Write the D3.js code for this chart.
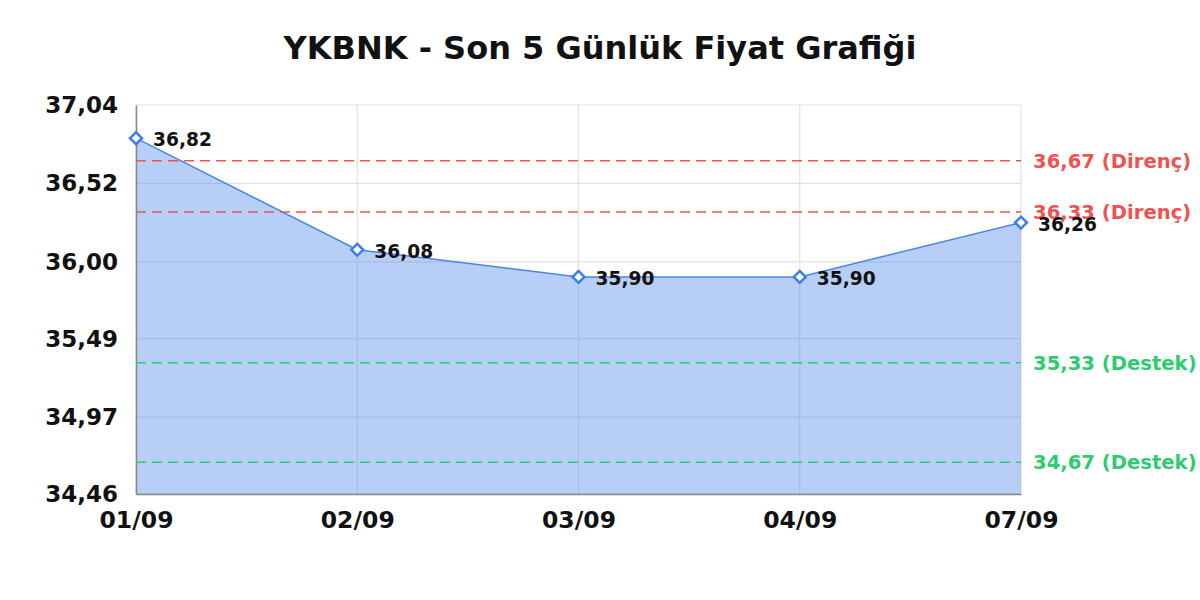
<!DOCTYPE html>
<html>
<head>
<meta charset="utf-8">
<script src="https://cdn.jsdelivr.net/npm/d3@7"></script>
<style>
  body { margin: 0; background: #fff; }
  svg { font-family: "DejaVu Sans", sans-serif; font-weight: bold; }
</style>
</head>
<body>
<svg id="chart" width="1200" height="600"></svg>
<script>
'use strict'

const title = 'YKBNK - Son 5 Günlük Fiyat Grafiği';
const dates = ['01/09', '02/09', '03/09', '04/09', '07/09'];
const prices = [36.82, 36.08, 35.90, 35.90, 36.26];
const yTicks = [34.46, 34.97, 35.49, 36.00, 36.52, 37.04];
const resistance = [36.67, 36.33];
const support = [35.33, 34.67];

const fmt = v => v.toFixed(2).replace('.', ',');

const margin = { top: 105, right: 179, bottom: 106, left: 136 };
const width = 1200 - margin.left - margin.right;
const height = 600 - margin.top - margin.bottom;

const svg = d3.select('#chart');

svg.append('text')
  .attr('x', 600)
  .attr('y', 59)
  .attr('text-anchor', 'middle')
  .attr('font-size', 32)
  .attr('fill', '#111')
  .text(title);

const g = svg.append('g')
  .attr('transform', 'translate(' + margin.left + ',' + margin.top + ')');

const x = d3.scalePoint()
  .domain(dates)
  .range([0, width]);

const y = d3.scaleLinear()
  .domain([d3.min(yTicks), d3.max(yTicks)])
  .range([height, 0]);

// grid
g.append('g').selectAll('line')
  .data(yTicks)
  .enter().append('line')
    .attr('x1', 0)
    .attr('x2', width)
    .attr('y1', d => y(d))
    .attr('y2', d => y(d))
    .attr('stroke', '#e2e2e2')
    .attr('stroke-width', 1.2);

g.append('g').selectAll('line')
  .data(dates)
  .enter().append('line')
    .attr('x1', d => x(d))
    .attr('x2', d => x(d))
    .attr('y1', 0)
    .attr('y2', height)
    .attr('stroke', '#e2e2e2')
    .attr('stroke-width', 1.2);

// area + line
const pts = dates.map((d, i) => ({ date: d, value: prices[i] }));

const area = d3.area()
  .x(d => x(d.date))
  .y0(height)
  .y1(d => y(d.value));

const line = d3.line()
  .x(d => x(d.date))
  .y(d => y(d.value));

g.append('path')
  .datum(pts)
  .attr('d', area)
  .attr('fill', '#4a86e8')
  .attr('fill-opacity', 0.4);

g.append('path')
  .datum(pts)
  .attr('d', line)
  .attr('fill', 'none')
  .attr('stroke', '#4a86e8')
  .attr('stroke-width', 1.5);

// axes
const yAxis = g.append('g')
  .call(d3.axisLeft(y).tickValues(yTicks).tickSize(0).tickPadding(18).tickFormat(fmt));
yAxis.select('.domain').attr('stroke', '#888').attr('stroke-width', 1.5);
yAxis.selectAll('text')
  .attr('font-size', 23)
  .attr('font-family', 'DejaVu Sans')
  .attr('font-weight', 'bold')
  .attr('fill', '#111');

const xAxis = g.append('g')
  .attr('transform', 'translate(0,' + height + ')')
  .call(d3.axisBottom(x).tickSize(0).tickPadding(17));
xAxis.select('.domain').attr('stroke', '#888').attr('stroke-width', 1.5);
xAxis.selectAll('text')
  .attr('font-size', 23.5)
  .attr('font-family', 'DejaVu Sans')
  .attr('font-weight', 'bold')
  .attr('fill', '#111');

// reference lines
function refLines (values, color, label) {
  const rg = g.append('g');
  rg.selectAll('line')
    .data(values)
    .enter().append('line')
      .attr('x1', 0)
      .attr('x2', width)
      .attr('y1', d => y(d))
      .attr('y2', d => y(d))
      .attr('stroke', color)
      .attr('stroke-width', 1.5)
      .attr('stroke-dasharray', '10,6');
  rg.selectAll('text')
    .data(values)
    .enter().append('text')
      .attr('x', width + 12)
      .attr('y', d => y(d))
      .attr('dy', '0.36em')
      .attr('font-size', 19.6)
      .attr('fill', color)
      .text(d => fmt(d) + ' (' + label + ')');
}
refLines(resistance, '#f05252', 'Direnç');
refLines(support, '#2ecc71', 'Destek');

// markers + value labels
g.append('g').selectAll('path')
  .data(pts)
  .enter().append('path')
    .attr('transform', d => 'translate(' + x(d.date) + ',' + y(d.value) + ') rotate(45)')
    .attr('d', 'M-4.2,-4.2H4.2V4.2H-4.2Z')
    .attr('fill', '#fff')
    .attr('stroke', '#3b7dea')
    .attr('stroke-width', 2.5);

g.append('g').selectAll('text')
  .data(pts)
  .enter().append('text')
    .attr('x', d => x(d.date) + 17)
    .attr('y', d => y(d.value) + 1.5)
    .attr('dy', '0.36em')
    .attr('font-size', 18.6)
    .attr('fill', '#111')
    .text(d => fmt(d.value));
</script>
</body>
</html>
